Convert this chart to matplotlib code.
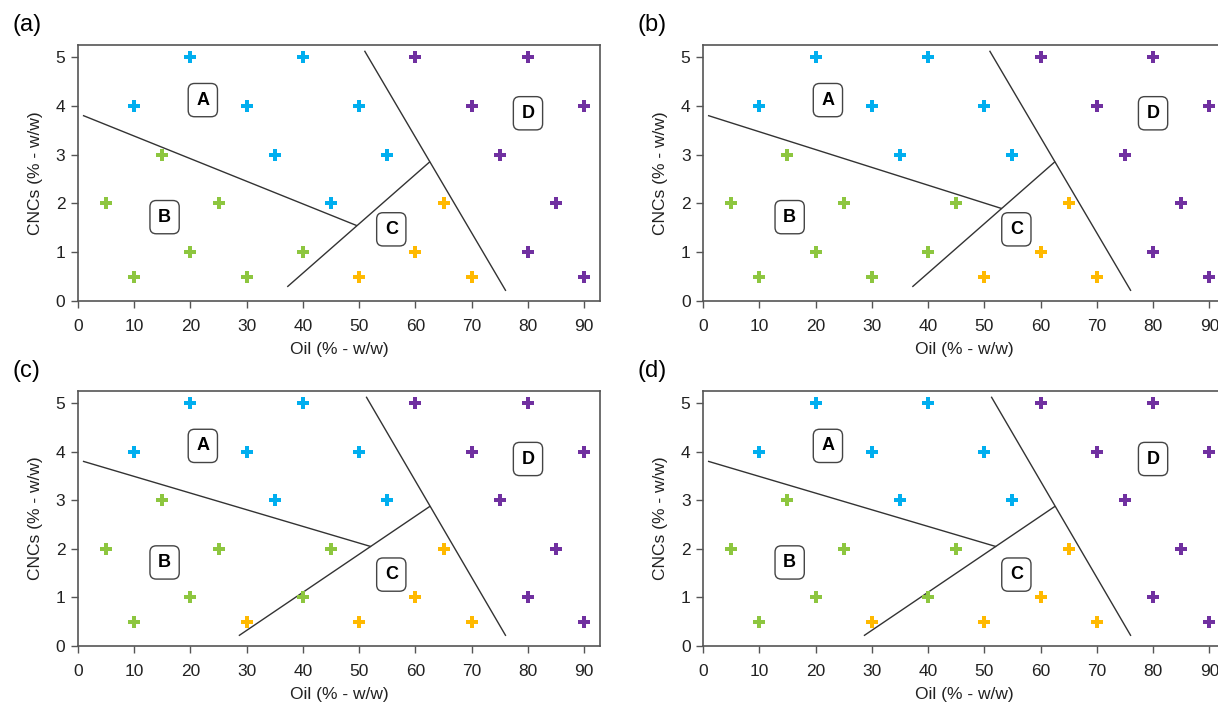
import numpy as np
import matplotlib.pyplot as plt

plt.rcParams['font.family'] = ['Liberation Sans', 'DejaVu Sans']

# Puntos experimentales (aceite, CNCs) por región
oil_A_a = [20, 40, 10, 30, 50, 35, 55, 45]
cnc_A_a = [5, 5, 4, 4, 4, 3, 3, 2]
oil_B_a = [15, 5, 25, 20, 40, 10, 30]
cnc_B_a = [3, 2, 2, 1, 1, 0.5, 0.5]
oil_C_a = [65, 60, 50, 70]
cnc_C_a = [2, 1, 0.5, 0.5]

oil_A_b = [20, 40, 10, 30, 50, 35, 55]
cnc_A_b = [5, 5, 4, 4, 4, 3, 3]
oil_B_b = [15, 5, 25, 45, 20, 40, 10, 30]
cnc_B_b = [3, 2, 2, 2, 1, 1, 0.5, 0.5]
oil_C_b = [65, 60, 50, 70]
cnc_C_b = [2, 1, 0.5, 0.5]

oil_B_c = [15, 5, 25, 45, 20, 40, 10]
cnc_B_c = [3, 2, 2, 2, 1, 1, 0.5]
oil_C_c = [65, 60, 30, 50, 70]
cnc_C_c = [2, 1, 0.5, 0.5, 0.5]

oil_D = [60, 80, 70, 90, 75, 85, 80, 90]
cnc_D = [5, 5, 4, 4, 3, 2, 1, 0.5]

# Fronteras entre regiones: (x0, y0, x1, y1)
lineas_a = [(1, 3.8, 49.5, 1.55), (37.3, 0.3, 62.5, 2.85), (51, 5.12, 76, 0.22)]
lineas_b = [(1, 3.8, 53, 1.9), (37.3, 0.3, 62.5, 2.85), (51, 5.12, 76, 0.22)]
lineas_c = [(1, 3.8, 52, 2.05), (28.7, 0.22, 62.5, 2.87), (51.3, 5.12, 76, 0.22)]

# Etiquetas de regiones
etiquetas = ['A', 'B', 'C', 'D']
etiq_x = [22.2, 15.4, 55.7, 80]
etiq_y = [4.12, 1.72, 1.47, 3.85]

paneles = [
    ('(a)', oil_A_a, cnc_A_a, oil_B_a, cnc_B_a, oil_C_a, cnc_C_a, lineas_a),
    ('(b)', oil_A_b, cnc_A_b, oil_B_b, cnc_B_b, oil_C_b, cnc_C_b, lineas_b),
    ('(c)', oil_A_b, cnc_A_b, oil_B_c, cnc_B_c, oil_C_c, cnc_C_c, lineas_c),
    ('(d)', oil_A_b, cnc_A_b, oil_B_c, cnc_B_c, oil_C_c, cnc_C_c, lineas_c),
]

posiciones = [
    [0.0640, 0.5718, 0.4286, 0.3642],
    [0.5772, 0.5718, 0.4286, 0.3642],
    [0.0640, 0.0811, 0.4286, 0.3627],
    [0.5772, 0.0811, 0.4286, 0.3627],
]

colores = ['#00aeef', '#8dc63f', '#ffb900', '#7030a0']
gris = '#555555'

fig = plt.figure(figsize=(12.18, 7.03), dpi=100)

for (nombre, xa, ya, xb, yb, xc, yc, lineas), pos in zip(paneles, posiciones):
    ax = fig.add_axes(pos)
    for (x, y), col in zip([(xa, ya), (xb, yb), (xc, yc), (oil_D, cnc_D)], colores):
        ax.scatter(x, y, marker='P', s=70, color=col, linewidths=0, zorder=3)
    for x0, y0, x1, y1 in lineas:
        ax.plot([x0, x1], [y0, y1], color='#333333', lw=1.0, zorder=2)
    for t, tx, ty in zip(etiquetas, etiq_x, etiq_y):
        ax.text(tx, ty, t, ha='center', va='center', fontsize=13, fontweight='bold',
                bbox=dict(boxstyle='round,pad=0.45,rounding_size=0.35', fc='white',
                          ec='#444444', lw=1.0), zorder=4)
    ax.set_xlim(0, 92.8)
    ax.set_ylim(0, 5.25)
    ax.set_xticks(np.arange(0, 91, 10))
    ax.set_yticks(np.arange(0, 6, 1))
    ax.tick_params(direction='out', length=5, width=1, color=gris, labelsize=12.5,
                   labelcolor='#222222')
    ax.tick_params(axis='x', pad=8)
    ax.tick_params(axis='y', pad=4)
    for sp in ax.spines.values():
        sp.set_color(gris)
        sp.set_linewidth(1.2)
    ax.set_xlabel('Oil (% - w/w)', fontsize=12.5, color='#222222', labelpad=6)
    ax.set_ylabel('CNCs (% - w/w)', fontsize=12.5, color='#222222', labelpad=9)
    ax.text(-0.125, 1.078, nombre, transform=ax.transAxes, fontsize=17, ha='left', va='center')

fig.savefig('out.png', dpi=100)
